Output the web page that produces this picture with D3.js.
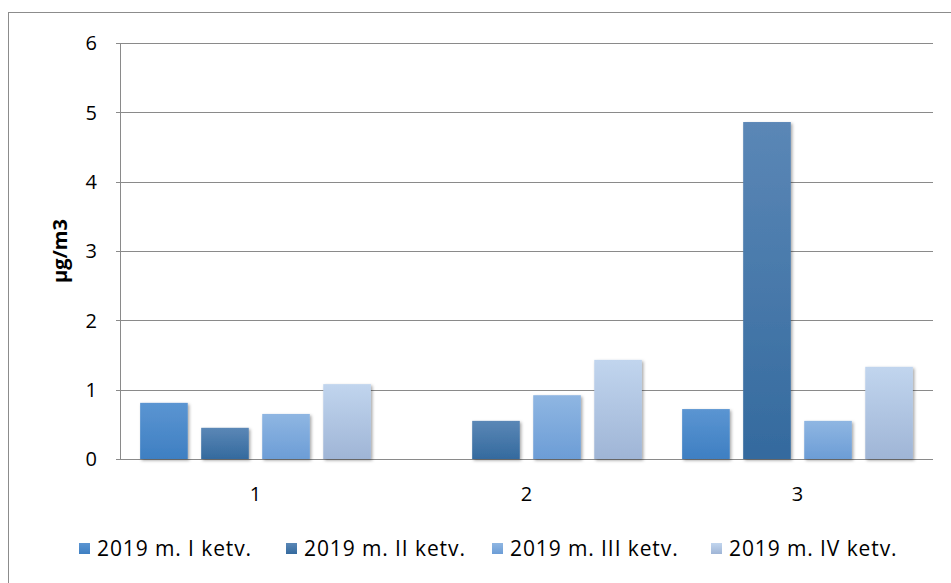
<!DOCTYPE html>
<html><head><meta charset="utf-8">
<script src="https://cdn.jsdelivr.net/npm/d3@7/dist/d3.min.js"></script>
<style>body{margin:0;background:#fff}svg{display:block}text{font-family:"Open Sans",Lato,sans-serif;fill:#000}</style>
</head><body><svg id="c" width="951" height="583"></svg>
<script>
const categories = ["1","2","3"];
const seriesNames = ["2019 m. I ketv.","2019 m. II ketv.","2019 m. III ketv.","2019 m. IV ketv."];
const s1 = [0.81, 0, 0.72];
const s2 = [0.45, 0.55, 4.86];
const s3 = [0.65, 0.92, 0.55];
const s4 = [1.08, 1.43, 1.33];
const yTicks = [0,1,2,3,4,5,6];
const yLabel = "µg/m3";
const colors = [["#5b95d2","#3e7fc2"],["#5b87b6","#346a9e"],["#8fb6e2","#6c9dd6"],["#c1d5ee","#9fb5d6"]];

const data = [s1,s2,s3,s4];
const svg = d3.select("#c");
const m = {l:120, r:933, t:43, b:459};
const defs = svg.append("defs");
colors.forEach((c,i)=>{
  const g = defs.append("linearGradient").attr("id","g"+i).attr("x1",0).attr("y1",0).attr("x2",0).attr("y2",1);
  g.append("stop").attr("offset","0%").attr("stop-color",c[0]);
  g.append("stop").attr("offset","100%").attr("stop-color",c[1]);
});
const f = defs.append("filter").attr("id","sh").attr("x","-20%").attr("y","-20%").attr("width","140%").attr("height","140%");
f.append("feDropShadow").attr("dx",1.5).attr("dy",1.5).attr("stdDeviation",1.8).attr("flood-color","#000").attr("flood-opacity",0.35);

svg.append("rect").attr("x",8.5).attr("y",12.5).attr("width",960).attr("height",600).attr("fill","none").attr("stroke","#8c8c8c");

const x = d3.scaleBand().domain(categories).range([m.l,m.r]).paddingInner(0).paddingOuter(0);
const xs = d3.scaleBand().domain(d3.range(4)).range([0,x.bandwidth()]).paddingInner(0.22).paddingOuter(0.33);
const y = d3.scaleLinear().domain([0,6]).range([m.b,m.t]);

// gridlines
svg.append("g").selectAll("line").data(yTicks).join("line")
  .attr("x1",m.l-4).attr("x2",m.r).attr("y1",d=>Math.round(y(d))+0.5).attr("y2",d=>Math.round(y(d))+0.5)
  .attr("stroke","#8a8a8a").attr("stroke-width",1);
svg.append("line").attr("x1",m.l+0.5).attr("x2",m.l+0.5).attr("y1",m.t).attr("y2",m.b).attr("stroke","#8a8a8a");

// y tick labels
svg.append("g").selectAll("text").data(yTicks).join("text")
  .attr("x",97).attr("y",d=>y(d)).attr("dy","0.36em").attr("text-anchor","end")
  .attr("font-size",20).text(d=>d);

// bars
categories.forEach((c,ci)=>{
  data.forEach((s,si)=>{
    if(s[ci]<=0) return;
    svg.append("rect").attr("x",x(c)+xs(si)).attr("width",xs.bandwidth())
      .attr("y",y(s[ci])).attr("height",y(0)-y(s[ci]))
      .attr("fill","url(#g"+si+")").attr("filter","url(#sh)");
  });
});

// x labels
svg.append("g").selectAll("text").data(categories).join("text")
  .attr("x",d=>x(d)+x.bandwidth()/2).attr("y",501).attr("text-anchor","middle").attr("font-size",20).text(d=>d);

// y label
svg.append("text").attr("transform","translate(67,251) rotate(-90)").attr("text-anchor","middle")
  .attr("font-size",20).attr("font-weight","bold").text(yLabel);

// legend
const lg = svg.append("g");
const lstarts = [79, 286, 492, 711];
seriesNames.forEach((n,i)=>{
  const lx = lstarts[i];
  lg.append("rect").attr("x",lx).attr("y",543).attr("width",11).attr("height",11).attr("fill","url(#g"+i+")");
  lg.append("text").attr("x",lx+18).attr("y",556).attr("font-size",21).attr("letter-spacing",0.9).text(n);
});
</script></body></html>
